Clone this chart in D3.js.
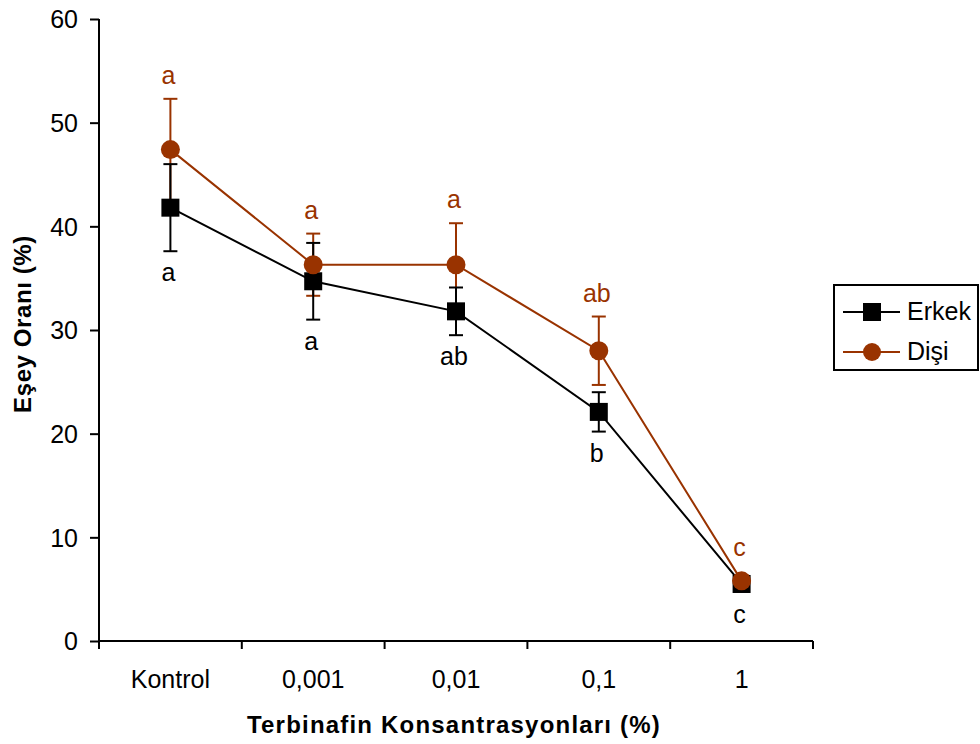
<!DOCTYPE html>
<html>
<head>
<meta charset="utf-8">
<script src="https://cdn.jsdelivr.net/npm/d3@7"></script>
<style>
  html, body { margin: 0; padding: 0; background: #fff; }
  svg { display: block; font-family: "Liberation Sans", Arial, sans-serif; }
</style>
</head>
<body>
<svg id="chart" width="980" height="744"></svg>
<script>
// ---- data ----
const categories = ["Kontrol", "0,001", "0,01", "0,1", "1"];
const erkekValues = [41.8, 34.7, 31.8, 22.1, 5.5];
const erkekErrors = [4.2, 3.7, 2.3, 1.9, 0.4];
const erkekLetters = ["a", "a", "ab", "b", "c"];
const disiValues = [47.4, 36.3, 36.3, 28.0, 5.8];
const disiErrors = [4.9, 3.0, 4.0, 3.3, 0.5];
const disiLetters = ["a", "a", "a", "ab", "c"];
const yTicks = [0, 10, 20, 30, 40, 50, 60];
const seriesNames = ["Erkek", "Dişi"];

const BROWN = "#993300";
const svg = d3.select("#chart");

const x = d3.scaleBand().domain(categories).range([99, 813]).padding(0);
const y = d3.scaleLinear().domain([0, 60]).range([641, 19]);
const cx = c => x(c) + x.bandwidth() / 2;

// ---- axes ----
const yAxis = d3.axisLeft(y).tickValues(yTicks).tickSize(9).tickPadding(12).tickFormat(d3.format("d"));
const gy = svg.append("g").attr("transform", "translate(99,0)").call(yAxis);
gy.select(".domain").attr("stroke", "#000").attr("stroke-width", 2).attr("d", `M0,${y(60)}V${y(0)}`);
gy.selectAll(".tick line").attr("stroke", "#000").attr("stroke-width", 2);
gy.selectAll(".tick text").attr("font-size", 25).attr("fill", "#000")
  .attr("font-family", "Liberation Sans, Arial, sans-serif").attr("dy", "0.35em");

const gx = svg.append("g");
gx.append("line").attr("x1", 99).attr("x2", 813).attr("y1", y(0)).attr("y2", y(0))
  .attr("stroke", "#000").attr("stroke-width", 2);
const boundaries = categories.map(c => x(c)).concat([x(categories[categories.length - 1]) + x.bandwidth()]);
gx.selectAll("line.tk").data(boundaries).enter().append("line").attr("class", "tk")
  .attr("x1", d => d).attr("x2", d => d).attr("y1", y(0)).attr("y2", y(0) + 8)
  .attr("stroke", "#000").attr("stroke-width", 2);
gx.selectAll("text.cat").data(categories).enter().append("text").attr("class", "cat")
  .attr("x", d => cx(d)).attr("y", 688).attr("text-anchor", "middle")
  .attr("font-size", 25).attr("fill", "#000").text(d => d);

// axis titles
svg.append("text").attr("x", 454).attr("y", 733).attr("text-anchor", "middle")
  .attr("font-size", 24).attr("font-weight", "bold").attr("letter-spacing", "1.2px")
  .text("Terbinafin Konsantrasyonları (%)");
svg.append("text").attr("transform", "translate(31,324) rotate(-90)").attr("text-anchor", "middle")
  .attr("font-size", 24).attr("font-weight", "bold").attr("letter-spacing", "0.6px")
  .text("Eşey Oranı (%)");

// ---- series ----
const erkek = categories.map((c, i) => ({ c, v: erkekValues[i], e: erkekErrors[i], l: erkekLetters[i] }));
const disi = categories.map((c, i) => ({ c, v: disiValues[i], e: disiErrors[i], l: disiLetters[i] }));
const line = d3.line().x(d => cx(d.c)).y(d => y(d.v));

function errBars(data, color) {
  const g = svg.append("g").attr("stroke", color).attr("stroke-width", 2);
  data.forEach(d => {
    const X = cx(d.c);
    g.append("line").attr("x1", X).attr("x2", X).attr("y1", y(d.v + d.e)).attr("y2", y(d.v - d.e));
    g.append("line").attr("x1", X - 7).attr("x2", X + 7).attr("y1", y(d.v + d.e)).attr("y2", y(d.v + d.e));
    g.append("line").attr("x1", X - 7).attr("x2", X + 7).attr("y1", y(d.v - d.e)).attr("y2", y(d.v - d.e));
  });
}
errBars(disi, BROWN);
errBars(erkek, "#000");

// Erkek line + squares
svg.append("path").datum(erkek).attr("d", line).attr("fill", "none").attr("stroke", "#000").attr("stroke-width", 2);
svg.selectAll("rect.sq").data(erkek).enter().append("rect").attr("class", "sq")
  .attr("x", d => cx(d.c) - 9).attr("y", d => y(d.v) - 9).attr("width", 18).attr("height", 18).attr("fill", "#000");

// Dişi line + circles
svg.append("path").datum(disi).attr("d", line).attr("fill", "none").attr("stroke", BROWN).attr("stroke-width", 2);
svg.selectAll("circle.ci").data(disi).enter().append("circle").attr("class", "ci")
  .attr("cx", d => cx(d.c)).attr("cy", d => y(d.v)).attr("r", 9.5).attr("fill", BROWN);

// letters
svg.selectAll("text.le").data(erkek).enter().append("text").attr("class", "le")
  .attr("x", d => cx(d.c) - 2)
  .attr("y", d => Math.max(y(d.v - d.e), y(d.v) + 9) + 30)
  .attr("text-anchor", "middle").attr("font-size", 25).attr("fill", "#000").text(d => d.l);
svg.selectAll("text.ld").data(disi).enter().append("text").attr("class", "ld")
  .attr("x", d => cx(d.c) - 2)
  .attr("y", d => Math.min(y(d.v + d.e), y(d.v) - 9.5) - 15)
  .attr("text-anchor", "middle").attr("font-size", 25).attr("fill", BROWN).text(d => d.l);

// ---- legend ----
const lg = svg.append("g");
lg.append("rect").attr("x", 834).attr("y", 285).attr("width", 144).attr("height", 85)
  .attr("fill", "#fff").attr("stroke", "#000").attr("stroke-width", 2);
const rows = [
  { name: seriesNames[0], color: "#000", shape: "square", yy: 312 },
  { name: seriesNames[1], color: BROWN, shape: "circle", yy: 352 }
];
rows.forEach(r => {
  lg.append("line").attr("x1", 843).attr("x2", 900).attr("y1", r.yy).attr("y2", r.yy)
    .attr("stroke", r.color).attr("stroke-width", 2);
  if (r.shape === "square") {
    lg.append("rect").attr("x", 872 - 9).attr("y", r.yy - 9).attr("width", 18).attr("height", 18).attr("fill", r.color);
  } else {
    lg.append("circle").attr("cx", 872).attr("cy", r.yy).attr("r", 9).attr("fill", r.color);
  }
  lg.append("text").attr("x", 907).attr("y", r.yy + 8).attr("font-size", 25).attr("fill", "#000").text(r.name);
});
</script>
</body>
</html>
